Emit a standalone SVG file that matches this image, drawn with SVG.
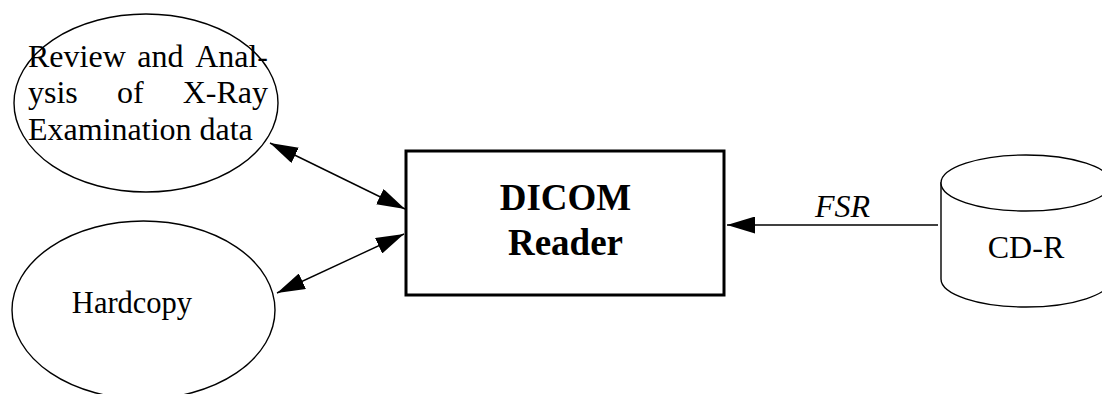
<svg xmlns="http://www.w3.org/2000/svg" width="1102" height="394" viewBox="0 0 1102 394">
<style>
.shape{fill:#fff;stroke:#000;stroke-width:1.4}
.box{fill:#fff;stroke:#000;stroke-width:3}
.t{font-family:"Liberation Serif","Times New Roman",serif;font-size:32px;fill:#000}
.b{font-family:"Liberation Serif","Times New Roman",serif;font-size:37px;font-weight:bold;fill:#000}
.i{font-family:"Liberation Serif","Times New Roman",serif;font-size:32px;font-style:italic;fill:#000}
.conn{stroke:#000;stroke-width:1.4;fill:none}
</style>
<defs>
<marker id="ah" markerUnits="userSpaceOnUse" markerWidth="28" markerHeight="17" refX="28" refY="8.5" orient="auto-start-reverse" viewBox="0 0 28 17">
<path d="M0,0 L28,8.5 L0,17 z" fill="#000"/>
</marker>
</defs>
<rect width="1102" height="394" fill="#fff"/>
<g id="review">
<ellipse class="shape" cx="146" cy="103" rx="132" ry="89"/>
<text class="t" y="67"><tspan x="28">Review</tspan><tspan x="137.3">and</tspan></text>
<text class="t" y="67" x="268" text-anchor="end">Anal-</text>
<text class="t" y="103"><tspan x="28">ysis</tspan><tspan x="117">of</tspan></text>
<text class="t" y="103" x="268" text-anchor="end">X-Ray</text>
<text class="t" y="140" x="28">Examination data</text>
</g>
<g id="hardcopy">
<ellipse class="shape" cx="143.5" cy="310" rx="131.5" ry="89"/>
<text class="t" x="132" y="313" text-anchor="middle" style="font-size:30.5px">Hardcopy</text>
</g>
<g id="dicom-reader">
<rect class="box" x="406" y="151" width="318" height="144"/>
<text class="b" x="565.5" y="210" text-anchor="middle">DICOM</text>
<text class="b" x="565.5" y="255" text-anchor="middle">Reader</text>
</g>
<g id="cdr">
<path class="shape" d="M941,183 L941,279 A85,28 0 0,0 1111,279 L1111,183 Z"/>
<ellipse class="shape" cx="1026" cy="183" rx="85" ry="28"/>
<text class="t" x="1026" y="258" text-anchor="middle">CD-R</text>
</g>
<g id="connectors">
<line class="conn" x1="270" y1="143" x2="405" y2="209" marker-start="url(#ah)" marker-end="url(#ah)"/>
<line class="conn" x1="277" y1="293" x2="404" y2="234" marker-start="url(#ah)" marker-end="url(#ah)"/>
<line class="conn" x1="938" y1="225" x2="727" y2="225" marker-end="url(#ah)"/>
<text class="i" x="842.5" y="217" text-anchor="middle">FSR</text>
</g>
</svg>
